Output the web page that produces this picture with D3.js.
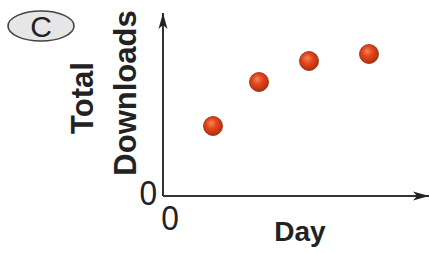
<!DOCTYPE html>
<html>
<head>
<meta charset="utf-8">
<script src="https://cdn.jsdelivr.net/npm/d3@7"></script>
<style>
  html, body { margin: 0; padding: 0; background: #fff; }
</style>
</head>
<body>
<svg width="430" height="253"></svg>
<script>
// values (arbitrary units, axes have no ticks)
const days = [1, 1.92, 2.92, 4.12];
const downloads = [70, 114, 135, 142];
const panelLabel = "C";

document.addEventListener("DOMContentLoaded", () => {
    const svg = d3.select("svg");

    // origin of the axes sits at (163, 196)
    const xScale = d3.scaleLinear().domain([0, 5.32]).range([163, 429]);
    const yScale = d3.scaleLinear().domain([0, 183]).range([196, 13]);

    const defs = svg.append("defs");

    // arrow heads
    defs.append("marker")
        .attr("id", "arrow")
        .attr("viewBox", "0 0 16 10")
        .attr("refX", 16)
        .attr("refY", 5)
        .attr("markerWidth", 16)
        .attr("markerHeight", 10)
        .attr("markerUnits", "userSpaceOnUse")
        .attr("orient", "auto")
        .append("path")
        .attr("d", "M0,0.5 L16,5 L0,9.5 L4,5 Z")
        .attr("fill", "#222");

    // shaded ball
    const grad = defs.append("radialGradient")
        .attr("id", "ball")
        .attr("cx", "45%").attr("cy", "40%").attr("r", "60%")
        .attr("fx", "40%").attr("fy", "35%");
    grad.append("stop").attr("offset", "0%").attr("stop-color", "#f4855a");
    grad.append("stop").attr("offset", "45%").attr("stop-color", "#e5461c");
    grad.append("stop").attr("offset", "100%").attr("stop-color", "#b12f0c");

    // panel badge
    svg.append("ellipse")
        .attr("cx", 41).attr("cy", 26)
        .attr("rx", 33).attr("ry", 15)
        .attr("fill", "#e6e6e6")
        .attr("stroke", "#444")
        .attr("stroke-width", 1.6);
    svg.append("text")
        .attr("x", 41).attr("y", 37)
        .attr("text-anchor", "middle")
        .attr("font-family", "Liberation Sans, Arial, sans-serif")
        .attr("font-size", "30px")
        .attr("fill", "#222")
        .text(panelLabel);

    // axes
    svg.append("line")
        .attr("x1", xScale(0)).attr("y1", yScale(0))
        .attr("x2", xScale(0)).attr("y2", yScale(183))
        .attr("stroke", "#333").attr("stroke-width", 2)
        .attr("marker-end", "url(#arrow)");
    svg.append("line")
        .attr("x1", xScale(0)).attr("y1", yScale(0))
        .attr("x2", xScale(5.32)).attr("y2", yScale(0))
        .attr("stroke", "#333").attr("stroke-width", 2)
        .attr("marker-end", "url(#arrow)");

    // zeros (slightly condensed, like the original type)
    svg.append("text")
        .attr("transform", "translate(" + (xScale(0) - 6) + "," + (yScale(0) + 9) + ") scale(0.88,1)")
        .attr("text-anchor", "end")
        .attr("font-family", "Liberation Sans, Arial, sans-serif")
        .attr("font-size", "36px")
        .attr("fill", "#222")
        .text("0");
    svg.append("text")
        .attr("transform", "translate(" + (xScale(0) + 7) + "," + (yScale(0) + 34) + ") scale(0.88,1)")
        .attr("text-anchor", "middle")
        .attr("font-family", "Liberation Sans, Arial, sans-serif")
        .attr("font-size", "36px")
        .attr("fill", "#222")
        .text("0");

    // axis titles
    svg.append("text")
        .attr("transform", "translate(93,98) rotate(-90)")
        .attr("text-anchor", "middle")
        .attr("font-family", "Liberation Sans, Arial, sans-serif")
        .attr("font-weight", "bold")
        .attr("font-size", "31px")
        .attr("fill", "#222")
        .text("Total");
    svg.append("text")
        .attr("transform", "translate(136,93) rotate(-90)")
        .attr("text-anchor", "middle")
        .attr("font-family", "Liberation Sans, Arial, sans-serif")
        .attr("font-weight", "bold")
        .attr("font-size", "31px")
        .attr("fill", "#222")
        .text("Downloads");
    svg.append("text")
        .attr("x", 300).attr("y", 241)
        .attr("text-anchor", "middle")
        .attr("font-family", "Liberation Sans, Arial, sans-serif")
        .attr("font-weight", "bold")
        .attr("font-size", "28px")
        .attr("fill", "#222")
        .text("Day");

    // points
    svg.selectAll(".pt")
        .data(days.map((d, i) => ({ day: d, total: downloads[i] })))
        .enter().append("circle")
        .attr("class", "pt")
        .attr("cx", d => xScale(d.day))
        .attr("cy", d => yScale(d.total))
        .attr("r", 9.5)
        .attr("fill", "url(#ball)")
        .attr("stroke", "#8a2a10")
        .attr("stroke-width", 0.8);
});
</script>
</body>
</html>
